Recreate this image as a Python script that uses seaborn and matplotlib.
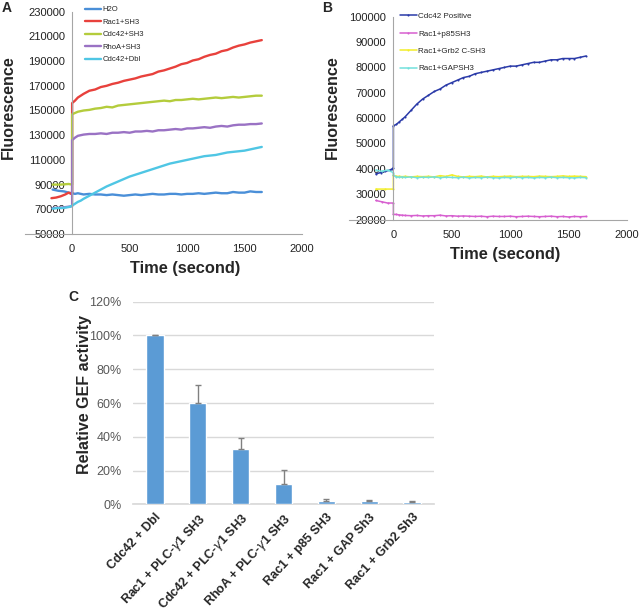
import numpy as np
import pandas as pd
import matplotlib
matplotlib.use("Agg")
import matplotlib.pyplot as plt
import matplotlib.ticker as mticker
import seaborn as sns

# ---- panel A: fluorescence traces ----
t_post = [0, 25, 50, 75, 100, 150,
          200, 250, 300, 350, 400, 450,
          500, 550, 600, 650, 700, 750,
          800, 850, 900, 950, 1000, 1050,
          1100, 1150, 1200, 1250, 1300, 1350,
          1400, 1450, 1500, 1550, 1600, 1650]

h2o_t = [-170, -120, -70, -30, 0]
h2o_pre = [86000, 85000, 84500, 83500, 83000]
h2o_post = [83000, 82500, 83000, 82500, 82000, 82500,
            82000, 82000, 81500, 82000, 81500, 81000,
            81500, 82000, 81500, 82000, 82500, 82000,
            82000, 82500, 82500, 82000, 82500, 82500,
            83000, 82500, 83000, 83500, 83000, 83000,
            84000, 83500, 83500, 84500, 84000, 84000]

rac1_t = [-180, -140, -100, -60, -30, -10, 0]
rac1_pre = [79000, 79500, 80500, 82000, 83500, 82500, 83000]
rac1_post = [156000, 158000, 160500, 162000, 163500, 166000,
             167000, 169000, 170000, 171500, 172500, 174000,
             175000, 176000, 177500, 178500, 179500, 181500,
             182500, 184000, 185500, 187500, 188500, 190500,
             191500, 193500, 195000, 196000, 198000, 199000,
             201000, 202500, 203500, 205000, 206000, 207000]

cdc42_t = [-170, -100, -30, 0]
cdc42_pre = [90000, 90000, 90500, 90000]
cdc42_post = [147000, 148000, 149000, 149500, 150000, 150500,
              151500, 152000, 153000, 152500, 154000, 154500,
              155000, 155500, 156000, 156500, 157000, 157500,
              158000, 157500, 158500, 158500, 159000, 159500,
              159000, 159500, 160000, 160500, 160000, 160500,
              161000, 160500, 161000, 161500, 162000, 162000]

rhoa_t = [-170, -80, 0]
rhoa_pre = [71000, 71500, 72500]
rhoa_post = [126000, 128000, 129500, 130000, 130500, 131000,
             131000, 131500, 131000, 132000, 132000, 132500,
             132000, 133000, 133000, 133500, 133000, 134000,
             134000, 134500, 135000, 134500, 135500, 135500,
             136000, 136500, 136000, 137000, 137500, 137000,
             138000, 138500, 138500, 139000, 139000, 139500]

dbl_t = [-170, -130, -90, -50, -20, 0]
dbl_pre = [70500, 71000, 71000, 71500, 72000, 73000]
dbl_post = [73000, 74500, 76000, 77000, 78500, 81000,
            83500, 86000, 88500, 90500, 92500, 94500,
            96500, 98000, 99500, 101000, 102500, 104000,
            105500, 107000, 108000, 109000, 110000, 111000,
            112000, 113000, 113500, 114000, 115000, 116000,
            116500, 117000, 117500, 118500, 119500, 120500]

# ---- panel B ----
pos_t = [-150, -110, -70, -30, -10, 0]
pos_pre = [38000, 38500, 39000, 39500, 40000, 40500]
pos_post = [57000, 57500, 58500, 59500, 60500, 63000,
            65500, 67500, 69000, 70500, 71500, 73000,
            74000, 75000, 76000, 76500, 77500, 78000,
            78500, 79000, 79500, 80000, 80500, 80500,
            81000, 81500, 82000, 82000, 82500, 83000,
            83000, 83500, 83500, 83500, 84000, 84500]

p85_t = [-150, -100, -50, 0]
p85_pre = [27500, 27000, 26500, 26500]
p85_post = [22000, 22000, 21800, 21700, 21600, 21500,
            21600, 21400, 21500, 21500, 21700, 21400,
            21500, 21300, 21400, 21300, 21200, 21300,
            21100, 21300, 21200, 21200, 21300, 21100,
            21200, 21300, 21200, 21100, 21200, 21300,
            21100, 21200, 21000, 21200, 21100, 21200]

grb2_t = [-150, -75, 0]
grb2_pre = [32000, 32000, 32000]
grb2_post = [37500, 37000, 37000, 36900, 37000, 36800,
             37000, 36900, 37000, 36800, 37300, 37000,
             37600, 37000, 36800, 37000, 36900, 37100,
             36800, 37000, 36900, 37000, 37100, 36900,
             37000, 37000, 36900, 37100, 37000, 36900,
             37000, 37200, 37000, 37100, 37000, 36900]

gap_t = [-150, -100, -50, 0]
gap_pre = [39500, 39000, 39500, 38500]
gap_post = [37500, 36800, 36700, 36800, 36600, 36800,
            36500, 36700, 36600, 36800, 36500, 36700,
            36600, 36500, 36700, 36400, 36600, 36500,
            36700, 36500, 36400, 36600, 36500, 36700,
            36500, 36600, 36400, 36600, 36500, 36700,
            36500, 36600, 36500, 36400, 36600, 36500]

# ---- panel C ----
conditions = ["Cdc42 + Dbl", "Rac1 + PLC-$\\gamma$1 SH3", "Cdc42 + PLC-$\\gamma$1 SH3",
              "RhoA + PLC-$\\gamma$1 SH3", "Rac1 + p85 SH3", "Rac1 + GAP Sh3", "Rac1 + Grb2 Sh3"]
activity = [1.00, 0.60, 0.325, 0.12, 0.02, 0.017, 0.012]
activity_err = [0.002, 0.105, 0.065, 0.085, 0.012, 0.006, 0.008]


def trace_frame(series):
    rows = []
    for name, tp, vp, vpost in series:
        for t, v in zip(tp, vp):
            rows.append((name, t, v))
        for t, v in zip(t_post, vpost):
            rows.append((name, t, v))
    return pd.DataFrame(rows, columns=["series", "time", "value"])


def px_axes(fig, left, top, right, bottom):
    W, H = 640, 614
    return fig.add_axes([left / W, 1 - bottom / H, (right - left) / W, (bottom - top) / H])


def px_text(fig, x, y, s, **kw):
    return fig.text(x / 640, 1 - y / 614, s, **kw)


def style_trace_axes(ax, xlim, ylim, yticks):
    ax.set_xlim(*xlim)
    ax.set_ylim(*ylim)
    ax.set_xticks([0, 500, 1000, 1500, 2000])
    ax.set_yticks(yticks)
    ax.spines["top"].set_visible(False)
    ax.spines["right"].set_visible(False)
    ax.spines["left"].set_position(("data", 0))
    for s in ("left", "bottom"):
        ax.spines[s].set_color("#a6a6a6")
        ax.spines[s].set_linewidth(0.8)
    ax.tick_params(axis="both", labelsize=8, colors="#a6a6a6", labelcolor="#222222",
                   length=3, width=0.8, pad=2)
    ax.tick_params(axis="x", direction="inout", pad=6)
    ax.set_xlabel("")
    ax.set_ylabel("")
    ax.grid(False)


sns.set_theme(style="white")
plt.rcParams["font.family"] = ["Liberation Sans", "DejaVu Sans"]

fig = plt.figure(figsize=(6.4, 6.14), dpi=100)

# panel A
a_names = ["H2O", "Rac1+SH3", "Cdc42+SH3", "RhoA+SH3", "Cdc42+Dbl"]
a_colors = ["#4a8fd8", "#e8413c", "#b4cc3c", "#9a72c4", "#4fc6e4"]
df_a = trace_frame([
    ("H2O", h2o_t, h2o_pre, h2o_post),
    ("Rac1+SH3", rac1_t, rac1_pre, rac1_post),
    ("Cdc42+SH3", cdc42_t, cdc42_pre, cdc42_post),
    ("RhoA+SH3", rhoa_t, rhoa_pre, rhoa_post),
    ("Cdc42+Dbl", dbl_t, dbl_pre, dbl_post),
])
axA = px_axes(fig, 25, 11.7, 302, 234)
sns.lineplot(data=df_a, x="time", y="value", hue="series", hue_order=a_names,
             palette=dict(zip(a_names, a_colors)), estimator=None, sort=False,
             linewidth=1.7, ax=axA)
style_trace_axes(axA, (-410, 2000), (50000, 230000), range(50000, 230001, 20000))
axA.legend(loc="upper left", bbox_to_anchor=(0.217, 1.026), frameon=False, fontsize=5.5,
           handlelength=2.1, handletextpad=0.2, labelspacing=0.68, borderaxespad=0,
           borderpad=0)
px_text(fig, 8, 107, "Fluorescence", rotation=90, fontsize=11.6,
        fontweight="bold", ha="center", va="center")
px_text(fig, 185, 268, "Time (second)", fontsize=11.8, fontweight="bold",
        ha="center", va="center")
px_text(fig, 2, 8, "A", fontsize=10, fontweight="bold", ha="left", va="center")

# panel B
b_names = ["Cdc42 Positive", "Rac1+p85SH3", "Rac1+Grb2 C-SH3", "Rac1+GAPSH3"]
b_colors = ["#2a3aa8", "#d75fd0", "#f2ee2a", "#72e0dc"]
df_b = trace_frame([
    ("Cdc42 Positive", pos_t, pos_pre, pos_post),
    ("Rac1+p85SH3", p85_t, p85_pre, p85_post),
    ("Rac1+Grb2 C-SH3", grb2_t, grb2_pre, grb2_post),
    ("Rac1+GAPSH3", gap_t, gap_pre, gap_post),
])
axB = px_axes(fig, 349, 16.7, 627, 219.5)
sns.lineplot(data=df_b, x="time", y="value", hue="series", hue_order=b_names,
             palette=dict(zip(b_names, b_colors)), estimator=None, sort=False,
             linewidth=1.1, marker=".", markersize=3, markeredgewidth=0, ax=axB)
style_trace_axes(axB, (-380, 2000), (20000, 100000), range(20000, 100001, 10000))
axB.legend(loc="upper left", bbox_to_anchor=(0.183, 1.021), frameon=False, fontsize=5.8,
           handlelength=2.1, handletextpad=0.2, labelspacing=1.22, borderaxespad=0,
           borderpad=0)
px_text(fig, 332, 107, "Fluorescence", rotation=90, fontsize=11.6,
        fontweight="bold", ha="center", va="center")
px_text(fig, 505, 255, "Time (second)", fontsize=11.8, fontweight="bold",
        ha="center", va="center")
px_text(fig, 322, 8, "B", fontsize=10, fontweight="bold", ha="left", va="center")

# panel C
axC = px_axes(fig, 132.7, 301.7, 434.3, 504.3)
sns.barplot(x=conditions, y=activity, color="#5b9bd5", saturation=1, width=0.4,
            errorbar=None, ax=axC, zorder=3)
axC.errorbar(range(len(conditions)), activity,
             yerr=[np.zeros(len(activity)), activity_err], fmt="none",
             ecolor="#808080", elinewidth=1, capsize=2, capthick=1, zorder=4)
axC.set_ylim(0, 1.2)
axC.set_yticks(np.arange(0, 1.21, 0.2))
axC.yaxis.set_major_formatter(mticker.PercentFormatter(1.0, decimals=0))
axC.grid(axis="y", color="#d9d9d9", linewidth=1, zorder=0)
axC.set_axisbelow(True)
for s in ("top", "right", "left"):
    axC.spines[s].set_visible(False)
axC.spines["bottom"].set_color("#d9d9d9")
axC.tick_params(axis="y", labelsize=9, labelcolor="#595959", length=0, pad=8)
axC.tick_params(axis="x", length=0, pad=5)
axC.set_xticks(range(len(conditions)))
axC.set_xticklabels(conditions, rotation=47, ha="right", rotation_mode="anchor",
                    fontsize=9.0, fontweight="bold")
axC.set_ylabel("")
px_text(fig, 85, 395, "Relative GEF activity", rotation=90, fontsize=11.5,
        fontweight="bold", ha="center", va="center")
px_text(fig, 68, 297, "C", fontsize=10, fontweight="bold", ha="left", va="center")

fig.savefig("out.png", dpi=100)
